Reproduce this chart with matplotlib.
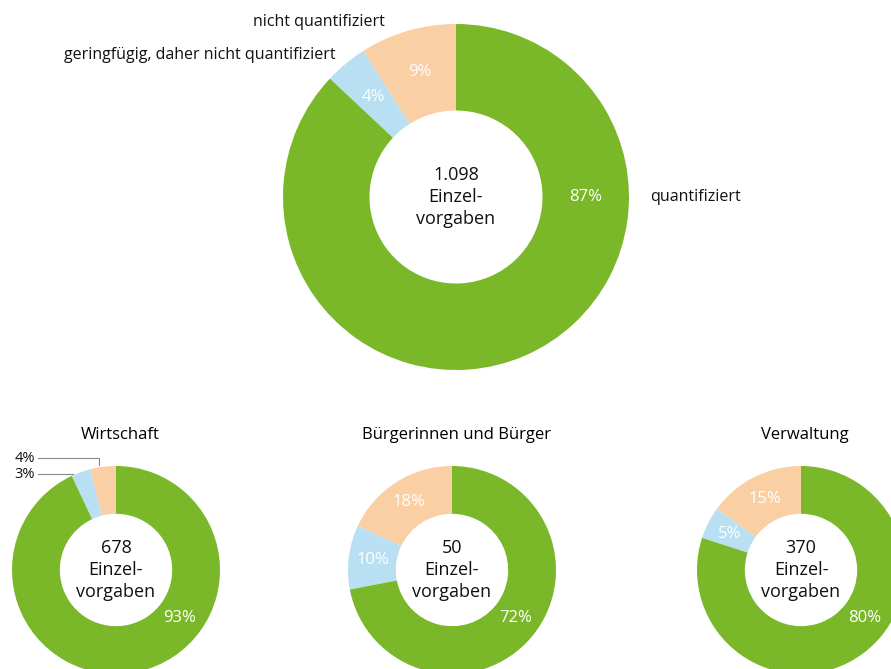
import numpy as np
import matplotlib.pyplot as plt

plt.rcParams["font.family"] = ["Open Sans", "DejaVu Sans"]

# Anteile: nicht quantifiziert, geringfügig, quantifiziert
kategorien = ["nicht quantifiziert", "geringfügig, daher nicht quantifiziert", "quantifiziert"]
gesamt = [9, 4, 87]
gesamt_anzahl = "1.098"

gruppen = ["Wirtschaft", "Bürgerinnen und Bürger", "Verwaltung"]
gruppen_werte = [[4, 3, 93], [18, 10, 72], [15, 5, 80]]
gruppen_anzahl = ["678", "50", "370"]

farben = ["#f9cfa3", "#b9e0f2", "#7ab82a"]
W, H = 891, 669

fig = plt.figure(figsize=(W / 100, H / 100), dpi=100)
ax = fig.add_axes([0, 0, 1, 1])
ax.set_xlim(0, W)
ax.set_ylim(0, H)
ax.set_aspect("equal")
ax.axis("off")


def donut(werte, cx, cy, r, breite, anzahl, gruen_winkel):
    ax.pie(werte, colors=farben, startangle=90, counterclock=True,
           center=(cx, cy), radius=r, frame=True,
           wedgeprops=dict(width=r * breite, linewidth=0))
    # Prozentwerte
    start = 90
    r_lab = r * (1 - breite / 2)
    winkel = []
    for i, w in enumerate(werte):
        ausdehnung = w * 3.6
        mitte = start + ausdehnung / 2
        winkel.append((start, start + ausdehnung))
        start += ausdehnung
        if i == 2:
            mitte = gruen_winkel
        if w < 5 and r < 150:
            continue
        ax.text(cx + r_lab * np.cos(np.radians(mitte)),
                cy + r_lab * np.sin(np.radians(mitte)),
                f"{w}%", color="white", fontsize=12,
                ha="center", va="center")
    ax.text(cx, cy, f"{anzahl}\nEinzel-\nvorgaben", ha="center", va="center",
            fontsize=13, linespacing=1.32, color="#111111")
    return winkel


# Großer Ring
cx, cy, R = 456, H - 197, 173
donut(gesamt, cx, cy, R, 0.5, gesamt_anzahl, 0)
ax.text(650, H - 197, kategorien[2], ha="left", va="center", fontsize=11.5,
        color="#111111")
ax.text(385, H - 22, kategorien[0], ha="right", va="center", fontsize=11.5,
        color="#111111")
ax.text(336, H - 55, kategorien[1], ha="right", va="center", fontsize=11.5,
        color="#111111")

# Kleine Ringe
zentren_x = [116, 452, 801]
zy, r = H - 570, 104
for name, werte, anzahl, zx in zip(gruppen, gruppen_werte, gruppen_anzahl, zentren_x):
    winkel = donut(werte, zx, zy, r, 0.46, anzahl, -37)
    ax.text(zx + 4, H - 435, name, ha="center", va="center", fontsize=12,
            color="#000000")
    if name == "Wirtschaft":
        # Hinweislinien für kleine Anteile
        a0 = np.radians(sum(winkel[0]) / 2 + 2)
        px, py = zx + (r + 2) * np.cos(a0), zy + (r + 2) * np.sin(a0)
        ax.plot([38, px, px], [H - 458, H - 458, py], color="#888888", lw=0.8)
        ax.text(35, H - 458, f"{werte[0]}%", ha="right", va="center",
                fontsize=10.5, color="#111111")
        a1 = np.radians(winkel[1][1] - 1)
        qx = zx + (r + 2) * np.cos(a1)
        ax.plot([38, qx], [H - 474, H - 474], color="#888888", lw=0.8)
        ax.text(35, H - 474, f"{werte[1]}%", ha="right", va="center",
                fontsize=10.5, color="#111111")

ax.set_xlim(0, W)
ax.set_ylim(0, H)
ax.axis("off")
fig.savefig("out.png", dpi=100)
